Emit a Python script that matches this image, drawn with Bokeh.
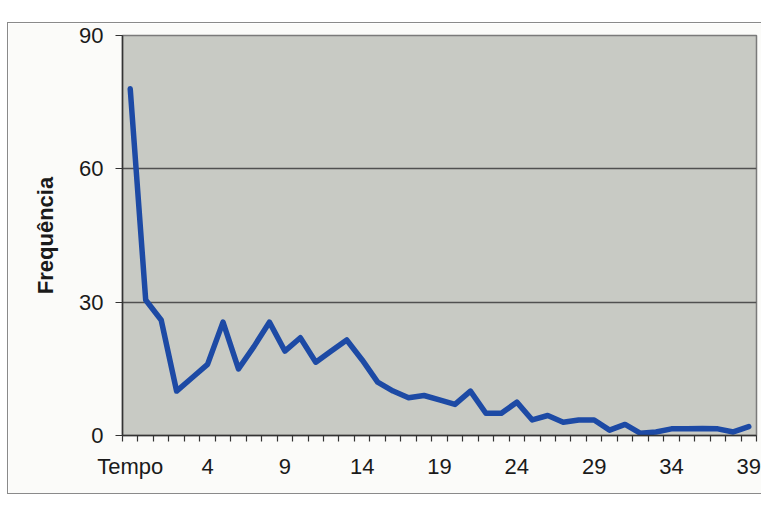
from bokeh.plotting import figure
from bokeh.models import FixedTicker, Range1d
from bokeh.embed import file_html
from bokeh.resources import INLINE

# Categories (first category is the header "Tempo", then times 0..39)
categories = ["Tempo"] + [str(i) for i in range(40)]
frequencia = [78, 30.5, 26, 10, 13, 16, 25.5, 15, 20, 25.5,
              19, 22, 16.5, 19, 21.5, 17, 12, 10, 8.5, 9,
              8, 7, 10, 5, 5, 7.5, 3.5, 4.5, 3, 3.5,
              3.5, 1.2, 2.5, 0.5, 0.8, 1.5, 1.5, 1.6, 1.5, 0.8,
              2]
y_ticks = [0, 30, 60, 90]
label_every = 5

xs = list(range(len(categories)))

p = figure(width=754, height=472,
           x_range=Range1d(-0.5, len(categories) - 0.5),
           y_range=Range1d(0, 90),
           output_backend="svg", toolbar_location=None,
           min_border_left=114, min_border_right=6,
           min_border_top=12, min_border_bottom=60)
p.margin = (22, 0, 0, 7)
p.styles = {"border-left": "1.5px solid #8a8a8a",
            "border-top": "1.5px solid #8a8a8a",
            "border-bottom": "1.5px solid #8a8a8a"}

p.background_fill_color = "#c8cac4"
p.border_fill_color = "#fbfbf9"
p.outline_line_color = "#7a7a7a"
p.outline_line_width = 1.5

p.line(xs, frequencia, line_color="#1d4aa5", line_width=5.5,
       line_join="round", line_cap="round")

font = "Liberation Sans"

# X axis
major = xs[::label_every]
p.xaxis.ticker = FixedTicker(ticks=major,
                             minor_ticks=[i - 0.5 for i in range(len(categories) + 1)])
p.xaxis.major_label_overrides = {i: categories[i] for i in major}
p.xaxis.major_tick_out = 0
p.xaxis.major_tick_in = 0
p.xaxis.minor_tick_out = 6
p.xaxis.minor_tick_in = 0
p.xaxis.minor_tick_line_color = "#333333"
p.xaxis.minor_tick_line_width = 1.2
p.xaxis.axis_line_color = "#333333"
p.xaxis.axis_line_width = 1.5
p.xaxis.major_label_text_font = font
p.xaxis.major_label_text_font_size = "22px"
p.xaxis.major_label_text_color = "#1a1a1a"
p.xaxis.major_label_standoff = 12

# Y axis
p.yaxis.ticker = FixedTicker(ticks=y_ticks)
p.yaxis.major_tick_out = 7
p.yaxis.major_tick_in = 0
p.yaxis.minor_tick_out = 0
p.yaxis.minor_tick_in = 0
p.yaxis.major_tick_line_color = "#333333"
p.yaxis.axis_line_color = "#333333"
p.yaxis.axis_line_width = 1.5
p.yaxis.major_label_text_font = font
p.yaxis.major_label_text_font_size = "22px"
p.yaxis.major_label_text_color = "#1a1a1a"
p.yaxis.major_label_standoff = 12
p.yaxis.axis_label = "Frequência"
p.yaxis.axis_label_text_font = font
p.yaxis.axis_label_text_font_size = "22px"
p.yaxis.axis_label_text_font_style = "bold"
p.yaxis.axis_label_text_color = "#1a1a1a"
p.yaxis.axis_label_standoff = 18

p.xgrid.visible = False
p.ygrid.ticker = FixedTicker(ticks=[30, 60])
p.ygrid.grid_line_color = "#505050"
p.ygrid.grid_line_width = 1.3

open("out.html", "w").write(file_html(p, INLINE))
